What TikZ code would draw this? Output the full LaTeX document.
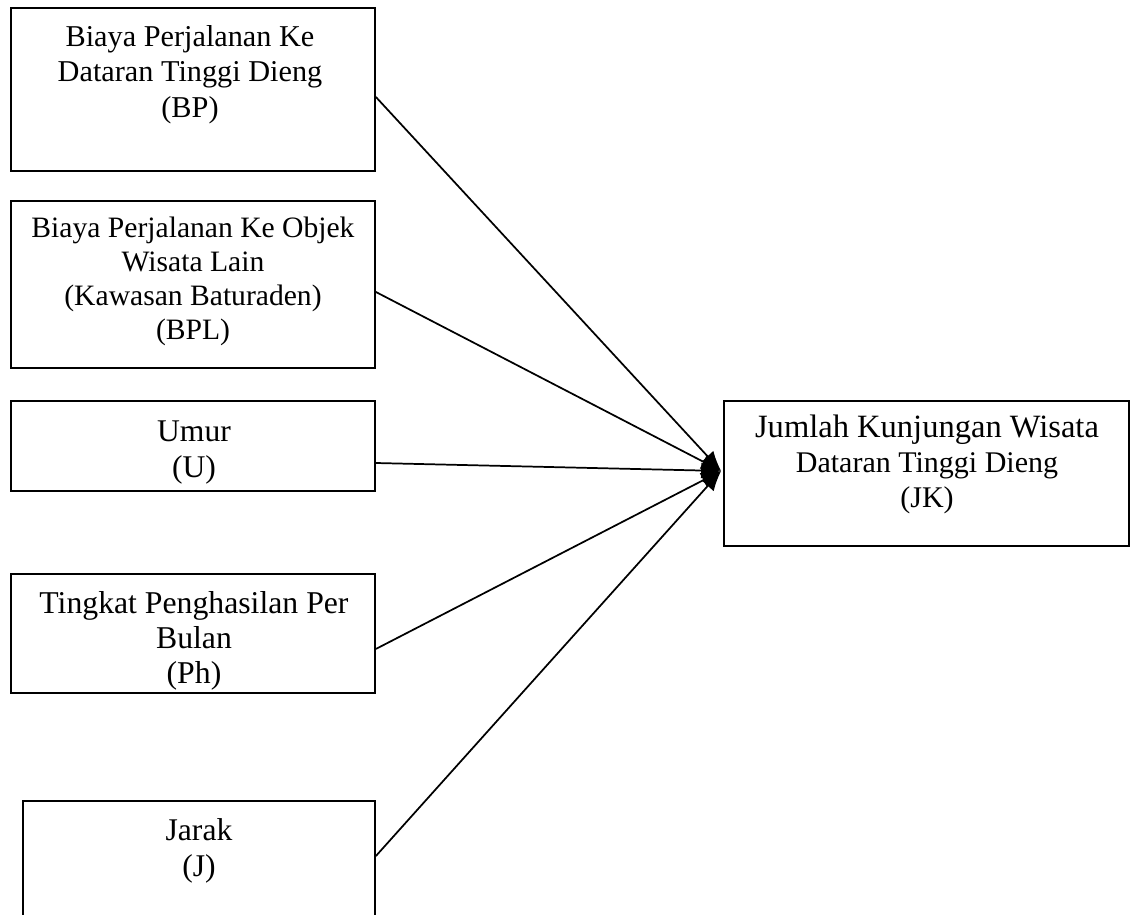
\documentclass[tikz,border=0pt]{standalone}
\usepackage{fontspec}
\setmainfont{Liberation Serif}
\usetikzlibrary{arrows.meta}
\tikzset{
  box/.style={draw, line width=1.3pt, rectangle, inner sep=0pt},
  txt/.style={align=center, inner sep=0pt, anchor=north},
  link/.style={line width=1.3pt, -{Latex[length=15pt,width=12pt]}}
}
\begin{document}
\begin{tikzpicture}[x=0.75pt,y=-0.75pt]
\useasboundingbox (0,0) rectangle (1131,914);
\clip (0,0) rectangle (1131,914);
% boxes
\node[box, minimum width=273pt, minimum height=122.25pt] (bp) at (193,89.5) {};
\node[box, minimum width=273pt, minimum height=125.25pt] (bpl) at (193,284.5) {};
\node[box, minimum width=273pt, minimum height=67.5pt] (u) at (193,446) {};
\node[box, minimum width=273pt, minimum height=89.25pt] (ph) at (193,633.5) {};
\node[box, minimum width=264pt, minimum height=96.75pt] (j) at (199,865.5) {};
\node[box, minimum width=303.75pt, minimum height=108.75pt] (jk) at (926.5,473.5) {};
% texts
\node[txt, font=\fontsize{22.7}{26.6}\selectfont] (tbp) at (190,25) {Biaya Perjalanan Ke\\Dataran Tinggi Dieng\\(BP)};
\node[txt, font=\fontsize{22.2}{25.5}\selectfont] (tbpl) at (193,217) {Biaya Perjalanan Ke Objek\\Wisata Lain\\(Kawasan Baturaden)\\(BPL)};
\node[txt, font=\fontsize{23.7}{27}\selectfont] (tu) at (194,421) {Umur\\(U)};
\node[txt, font=\fontsize{23.8}{26.3}\selectfont] (tph) at (194,591) {Tingkat Penghasilan Per\\Bulan\\(Ph)};
\node[txt, font=\fontsize{23.7}{27.5}\selectfont] (tj) at (199,818) {Jarak\\(J)};
\node[txt, font=\fontsize{22.5}{26}\selectfont] (tjk) at (927,415) {{\fontsize{24.4}{26}\selectfont Jumlah Kunjungan Wisata}\\Dataran Tinggi Dieng\\(JK)};
% target point
\coordinate (tip) at ([xshift=-1.5pt,yshift=1.9pt]jk.west);
% connectors
\draw[link] ([yshift=-5.6pt]bp.east) -- (tip);
\draw[link] ([yshift=-5.6pt]bpl.east) -- (tip);
\draw[link] ([yshift=-12.75pt]u.east) -- (tip);
\draw[link] ([yshift=-11.6pt]ph.east) -- (tip);
\draw[link] ([yshift=7.1pt]j.east) -- (tip);
\end{tikzpicture}
\end{document}
